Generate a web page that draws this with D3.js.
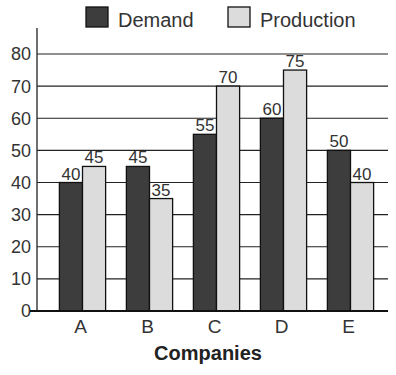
<!DOCTYPE html>
<html>
<head>
<meta charset="utf-8">
<script src="https://cdn.jsdelivr.net/npm/d3@7"></script>
<style>
  body { margin: 0; background: #fff; }
  svg { display: block; font-family: "Liberation Sans", Arial, sans-serif; }
</style>
</head>
<body>
<svg width="396" height="375"></svg>
<script>
var companies = ['A', 'B', 'C', 'D', 'E'];
var demand = [40, 45, 55, 60, 50];
var production = [45, 35, 70, 75, 40];
var yTicks = [0, 10, 20, 30, 40, 50, 60, 70, 80];
var seriesNames = ['Demand', 'Production'];
var seriesColors = ['#3d3d3d', '#dcdcdc'];

var svg = d3.select('svg'),
    plotLeft = 37, plotRight = 388, plotTop = 54, plotBottom = 311;

var x = d3.scaleBand().domain(companies).range([49, 384]).paddingInner(0.31).paddingOuter(0.155);
var x1 = d3.scaleBand().domain(seriesNames).range([0, x.bandwidth()]);
var y = d3.scaleLinear().domain([0, 80]).range([plotBottom, plotTop]);

// grid
svg.append('g').selectAll('line').data(yTicks.slice(1)).join('line')
    .attr('x1', plotLeft).attr('x2', plotRight)
    .attr('y1', function(d) { return y(d); }).attr('y2', function(d) { return y(d); })
    .attr('stroke', '#222').attr('stroke-width', 1.2);

// y axis
svg.append('line').attr('x1', plotLeft).attr('x2', plotLeft).attr('y1', 28).attr('y2', plotBottom)
    .attr('stroke', '#222').attr('stroke-width', 1.3);

svg.append('g').selectAll('text').data(yTicks).join('text')
    .attr('x', 31).attr('y', function(d) { return y(d); })
    .attr('dy', '0.36em').attr('text-anchor', 'end')
    .attr('font-size', 18).attr('fill', '#333')
    .text(function(d) { return d; });

// bars
var rows = companies.map(function(c, i) {
    return {company: c, values: [demand[i], production[i]]};
});

var groups = svg.append('g').selectAll('g').data(rows).join('g')
    .attr('transform', function(d) { return 'translate(' + x(d.company) + ',0)'; });

groups.selectAll('rect').data(function(d) {
    return d.values.map(function(v, k) { return {name: seriesNames[k], value: v, k: k}; });
}).join('rect')
    .attr('x', function(d) { return x1(d.name); })
    .attr('width', x1.bandwidth())
    .attr('y', function(d) { return y(d.value); })
    .attr('height', function(d) { return plotBottom - y(d.value); })
    .attr('fill', function(d) { return seriesColors[d.k]; })
    .attr('stroke', '#111').attr('stroke-width', 1.3);

groups.selectAll('text').data(function(d) {
    return d.values.map(function(v, k) { return {name: seriesNames[k], value: v}; });
}).join('text')
    .attr('x', function(d) { return x1(d.name) + x1.bandwidth() / 2; })
    .attr('y', function(d) { return y(d.value) - 3; })
    .attr('text-anchor', 'middle').attr('font-size', 17).attr('fill', '#333')
    .text(function(d) { return d.value; });

// x axis
svg.append('line').attr('x1', 30).attr('x2', plotRight).attr('y1', plotBottom).attr('y2', plotBottom)
    .attr('stroke', '#111').attr('stroke-width', 2);

svg.append('g').selectAll('text').data(companies).join('text')
    .attr('x', function(d) { return x(d) + x.bandwidth() / 2 - 2; })
    .attr('y', 333).attr('text-anchor', 'middle')
    .attr('font-size', 19).attr('fill', '#333')
    .text(function(d) { return d; });

svg.append('text').attr('x', 208).attr('y', 360).attr('text-anchor', 'middle')
    .attr('font-size', 20).attr('font-weight', 'bold').attr('fill', '#222')
    .text('Companies');

// legend
var legendX = [86, 228];
var legend = svg.append('g').selectAll('g').data(seriesNames).join('g')
    .attr('transform', function(d, i) { return 'translate(' + legendX[i] + ',7)'; });
legend.append('rect').attr('width', 22).attr('height', 20)
    .attr('fill', function(d, i) { return seriesColors[i]; })
    .attr('stroke', '#111').attr('stroke-width', 1.3);
legend.append('text').attr('x', 32).attr('y', 20)
    .attr('font-size', 20).attr('fill', '#333')
    .text(function(d) { return d; });
</script>
</body>
</html>
